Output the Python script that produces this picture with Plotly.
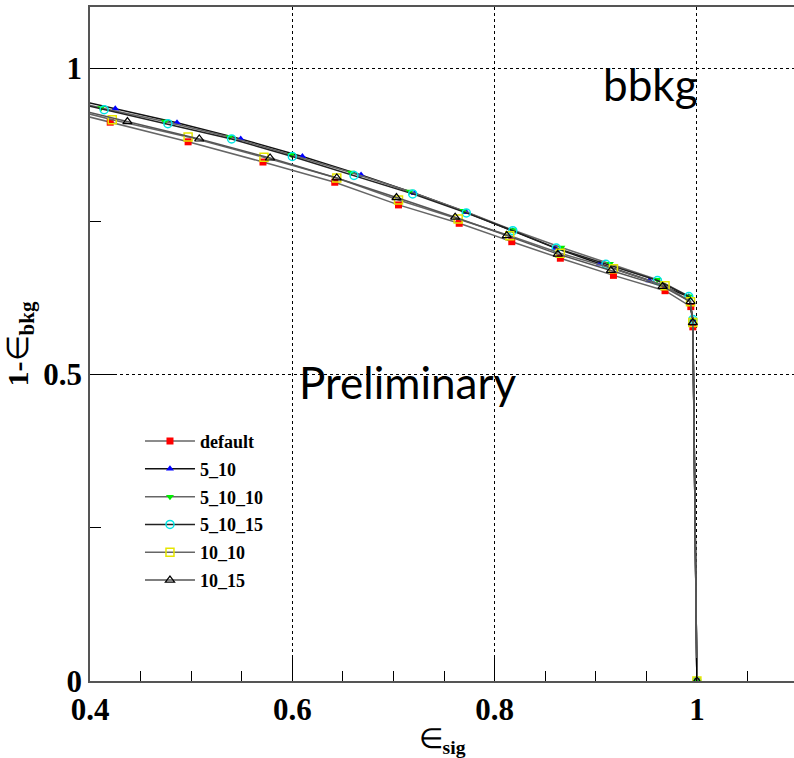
#ROC curves (1-eff_bkg vs eff_sig) for the bbkg sample, ROOT-style look
import plotly.graph_objects as go

# signal efficiency / background rejection read per configuration
names = ["default", "5_10", "5_10_10", "5_10_15", "10_10", "10_15"]

x_default = [0.35, 0.420, 0.497, 0.571, 0.642, 0.705, 0.765, 0.817, 0.865, 0.9175, 0.9685, 0.994, 0.996, 1.0]
y_default = [0.941, 0.912, 0.880, 0.847, 0.814, 0.777, 0.747, 0.717, 0.690, 0.662, 0.637, 0.611, 0.578, 0.0]

x_5_10 = [0.35, 0.425, 0.486, 0.549, 0.610, 0.668, 0.721, 0.772, 0.818, 0.860, 0.904, 0.953, 0.992, 0.996, 1.0]
y_5_10 = [0.962, 0.934, 0.911, 0.8846, 0.856, 0.826, 0.796, 0.765, 0.735, 0.7065, 0.681, 0.6536, 0.627, 0.590, 0.0]

x_5_10_10 = [0.35, 0.411, 0.474, 0.538, 0.599, 0.658, 0.716, 0.769, 0.818, 0.866, 0.914, 0.961, 0.992, 0.996, 1.0]
y_5_10_10 = [0.960, 0.935, 0.913, 0.888, 0.859, 0.830, 0.799, 0.7675, 0.736, 0.7075, 0.681, 0.655, 0.628, 0.590, 0.0]

x_5_10_15 = [0.35, 0.414, 0.477, 0.540, 0.600, 0.661, 0.719, 0.772, 0.818, 0.861, 0.910, 0.961, 0.992, 0.996, 1.0]
y_5_10_15 = [0.957, 0.9325, 0.9096, 0.8846, 0.856, 0.825, 0.795, 0.764, 0.735, 0.7065, 0.680, 0.6536, 0.6275, 0.590, 0.0]

x_10_10 = [0.35, 0.422, 0.497, 0.572, 0.644, 0.705, 0.764, 0.815, 0.865, 0.9175, 0.9685, 0.9937, 0.996, 1.0]
y_10_10 = [0.946, 0.916, 0.888, 0.8546, 0.821, 0.785, 0.754, 0.7266, 0.698, 0.6727, 0.645, 0.619, 0.585, 0.0]

x_10_15 = [0.35, 0.437, 0.508, 0.578, 0.644, 0.703, 0.761, 0.812, 0.8625, 0.915, 0.966, 0.9937, 0.996, 1.0]
y_10_15 = [0.948, 0.913, 0.8846, 0.8536, 0.821, 0.789, 0.757, 0.727, 0.6967, 0.670, 0.644, 0.619, 0.585, 0.0]

xs = [x_default, x_5_10, x_5_10_10, x_5_10_15, x_10_10, x_10_15]
ys = [y_default, y_5_10, y_5_10_10, y_5_10_15, y_10_10, y_10_15]

styles = [
    dict(symbol="square", color="#ff0000", size=7, line=dict(width=0)),
    dict(symbol="triangle-up", color="#0000ff", size=7, line=dict(width=0)),
    dict(symbol="triangle-down", color="#00ee00", size=7, line=dict(width=0)),
    dict(symbol="circle-open", color="#00e5e5", size=8, line=dict(width=1.5)),
    dict(symbol="square-open", color="#e5e500", size=8, line=dict(width=1.5)),
    dict(symbol="triangle-up-open", color="#000000", size=8, line=dict(width=1.2)),
]
line_cols = ["#666666", "#111111", "#666666", "#222222", "#666666", "#555555"]

SERIF = "Liberation Serif"

fig = go.Figure()
for i, name in enumerate(names):
    fig.add_trace(go.Scatter(
        x=xs[i], y=ys[i],
        mode="lines+markers",
        name=name,
        legendgroup=name,
        line=dict(color=line_cols[i], width=1.5),
        marker=styles[i],
    ))

fig.update_layout(
    width=794, height=758,
    margin=dict(l=90, r=0, t=7, b=77),
    paper_bgcolor="white",
    plot_bgcolor="white",
    showlegend=True,
    legend=dict(
        x=0.071, y=0.383, xanchor="left", yanchor="top",
        bgcolor="white",
        font=dict(family=SERIF, size=18, color="black", weight="bold"),
        tracegroupgap=1.4,
        itemwidth=50,
        traceorder="grouped",
    ),
    shapes=[dict(type="rect", xref="paper", yref="paper",
                 x0=0.064, x1=0.30, y0=0.126, y1=0.385,
                 fillcolor="white", line=dict(width=0), layer="between")],
    annotations=[
        dict(x=0.954, y=0.975, xref="x", yref="y", text="bbkg", showarrow=False,
             font=dict(family="Lato", size=44, color="black")),
        dict(x=0.714, y=0.488, xref="x", yref="y", text="Preliminary", showarrow=False,
             font=dict(family="Lato", size=44, color="black")),
    ],
)

fig.update_xaxes(
    range=[0.4, 1.096], automargin=False,
    tick0=0.4, dtick=0.2,
    ticks="inside", ticklen=23, tickcolor="black", tickwidth=1,
    minor=dict(dtick=0.05, ticks="inside", ticklen=10, tickcolor="black", showgrid=False),
    showgrid=True, gridcolor="black", gridwidth=1, griddash="dot",
    zeroline=False,
    showline=True, linecolor="#555555", linewidth=1.5, mirror=True,
    tickfont=dict(family=SERIF, size=31, color="black", weight="bold"),
    title=dict(text="∈<sub><b>sig</b></sub>", font=dict(family=SERIF, size=28, color="black"), standoff=6),
)
fig.update_yaxes(
    range=[0, 1.1], automargin=False,
    tick0=0, dtick=0.5,
    ticks="inside", ticklen=24, tickcolor="black", tickwidth=1,
    minor=dict(dtick=0.25, ticks="inside", ticklen=11, tickcolor="black", showgrid=False),
    showgrid=True, gridcolor="black", gridwidth=1, griddash="dot",
    zeroline=False,
    showline=True, linecolor="#555555", linewidth=1.5, mirror=True,
    tickfont=dict(family=SERIF, size=31, color="black", weight="bold"),
    title=dict(text="<b>1-</b>∈<sub><b>bkg</b></sub>", font=dict(family=SERIF, size=30, color="black"), standoff=6),
)

# drop the default page margin so the figure fills the window exactly
fig.write_html("out.html",
               config={"displayModeBar": False},
               post_script="document.body.style.margin='0';document.body.style.overflow='hidden';")
